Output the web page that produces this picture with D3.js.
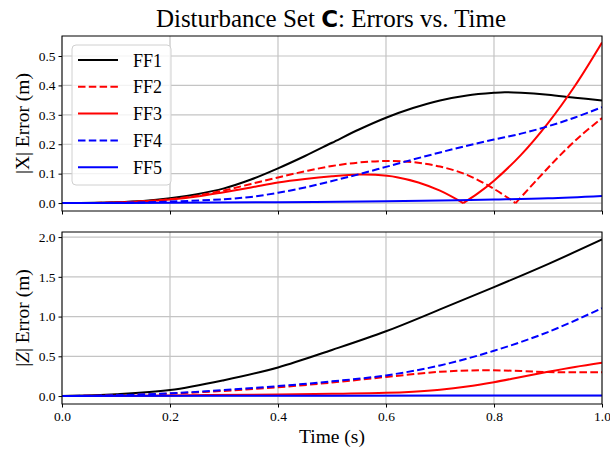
<!DOCTYPE html>
<html>
<head>
<meta charset="utf-8">
<script src="https://cdn.jsdelivr.net/npm/d3@7/dist/d3.min.js"></script>
<style>
  body { margin: 0; background: #fff; }
  svg text { font-family: 'Liberation Serif', 'Times New Roman', serif; fill: #000; }
</style>
</head>
<body>
<div id="chart"></div>
<script>
// series names and styles
var names = ['FF1', 'FF2', 'FF3', 'FF4', 'FF5']
var colors = ['#000000', '#ff0000', '#ff0000', '#0000ff', '#0000ff']
var dashed = [false, true, false, true, false]
var xTicks = [0, 0.2, 0.4, 0.6, 0.8, 1.0]
var xErrTicks = [0, 0.1, 0.2, 0.3, 0.4, 0.5]
var zErrTicks = [0, 0.5, 1.0, 1.5, 2.0]

// |X| error, [time, value]
var ff1X = [[0,0],[0.1,0.003],[0.15,0.007],[0.2,0.016],[0.25,0.03],[0.3,0.05],[0.35,0.08],[0.4,0.118],[0.45,0.16],[0.5,0.205],[0.55,0.25],[0.6,0.29],[0.65,0.323],[0.7,0.349],[0.75,0.366],[0.8,0.375],[0.82,0.377],[0.85,0.375],[0.9,0.368],[0.95,0.358],[1.0,0.349]]
var ff2X = [[0,0],[0.1,0.002],[0.2,0.013],[0.25,0.025],[0.3,0.043],[0.35,0.065],[0.4,0.087],[0.45,0.108],[0.5,0.126],[0.55,0.138],[0.6,0.143],[0.65,0.139],[0.7,0.124],[0.75,0.096],[0.8,0.048],[0.84,0],[0.88,0.08],[0.92,0.158],[0.96,0.228],[1.0,0.289]]
var ff3X = [[0,0],[0.1,0.002],[0.2,0.012],[0.25,0.022],[0.3,0.037],[0.35,0.053],[0.4,0.07],[0.45,0.082],[0.5,0.091],[0.55,0.097],[0.58,0.096],[0.62,0.088],[0.66,0.07],[0.7,0.042],[0.743,0],[0.77,0.033],[0.8,0.076],[0.85,0.164],[0.9,0.272],[0.95,0.399],[1.0,0.546]]
var ff4X = [[0,0],[0.1,0.001],[0.2,0.005],[0.3,0.013],[0.35,0.021],[0.4,0.035],[0.45,0.053],[0.5,0.075],[0.55,0.098],[0.6,0.123],[0.65,0.148],[0.7,0.172],[0.75,0.195],[0.8,0.216],[0.85,0.236],[0.9,0.261],[0.95,0.291],[1.0,0.326]]
var ff5X = [[0,0],[0.2,0.001],[0.4,0.003],[0.6,0.006],[0.7,0.009],[0.8,0.012],[0.9,0.016],[1.0,0.024]]

// |Z| error, [time, value]
var ff1Z = [[0,0],[0.1,0.022],[0.2,0.075],[0.3,0.2],[0.4,0.36],[0.5,0.58],[0.6,0.815],[0.7,1.09],[0.8,1.37],[0.9,1.66],[1.0,1.97]]
var ff2Z = [[0,0],[0.1,0.008],[0.2,0.03],[0.3,0.065],[0.4,0.11],[0.5,0.17],[0.6,0.24],[0.7,0.305],[0.78,0.325],[0.85,0.315],[0.9,0.302],[1.0,0.3]]
var ff3Z = [[0,0],[0.2,0.008],[0.4,0.02],[0.5,0.028],[0.6,0.04],[0.65,0.055],[0.7,0.08],[0.75,0.12],[0.8,0.175],[0.85,0.24],[0.9,0.305],[0.95,0.365],[1.0,0.418]]
var ff4Z = [[0,0],[0.1,0.01],[0.2,0.035],[0.3,0.075],[0.4,0.125],[0.5,0.185],[0.6,0.26],[0.7,0.385],[0.8,0.57],[0.9,0.805],[1.0,1.105]]
var ff5Z = [[0,0],[0.5,0.004],[1.0,0.008]]

var width = 610
var height = 453
var left = 62
var right = 602
var serif = "'Liberation Serif', 'Times New Roman', serif"

var svg = d3.select('#chart').append('svg')
  .attr('width', width)
  .attr('height', height)

var x = d3.scaleLinear().domain([0, 1]).range([left, right])

// split a series at interior zeros so the V corners stay sharp
function pieces(data) {
  var out = [], cur = [data[0]]
  for (var i = 1; i < data.length; i++) {
    cur.push(data[i])
    if (data[i][1] === 0 && i < data.length - 1) {
      out.push(cur)
      cur = [data[i]]
    }
  }
  out.push(cur)
  return out
}

function panel(series, ticks, top, bottom, domain, label, italic, showX) {
  var y = d3.scaleLinear().domain(domain).range([bottom, top])
  var g = svg.append('g')

  // grid
  g.selectAll('.vg').data(xTicks).enter().append('line')
    .attr('x1', x).attr('x2', x).attr('y1', top).attr('y2', bottom)
    .attr('stroke', '#c4c4c4').attr('stroke-width', 1.2)
  g.selectAll('.hg').data(ticks).enter().append('line')
    .attr('x1', left).attr('x2', right).attr('y1', y).attr('y2', y)
    .attr('stroke', '#c4c4c4').attr('stroke-width', 1.2)

  var line = d3.line()
    .x(function(d) { return x(d[0]) })
    .y(function(d) { return y(d[1]) })
    .curve(d3.curveCatmullRom.alpha(0.5))

  var clip = 'clip' + Math.round(top)
  svg.append('clipPath').attr('id', clip).append('rect')
    .attr('x', left).attr('y', top).attr('width', right - left).attr('height', bottom - top)

  series.forEach(function(s, i) {
    pieces(s).forEach(function(p) {
      g.append('path')
        .attr('d', line(p))
        .attr('clip-path', 'url(#' + clip + ')')
        .attr('fill', 'none')
        .attr('stroke', colors[i])
        .attr('stroke-width', 2)
        .attr('stroke-dasharray', dashed[i] ? '7.5,3.3' : null)
    })
  })

  // frame
  g.append('rect')
    .attr('x', left).attr('y', top).attr('width', right - left).attr('height', bottom - top)
    .attr('fill', 'none').attr('stroke', '#000').attr('stroke-width', 1)

  var yAxis = d3.axisLeft(y).tickValues(ticks).tickFormat(d3.format('.1f'))
    .tickSize(3.5).tickPadding(3)
  var ya = g.append('g').attr('transform', 'translate(' + left + ',0)').call(yAxis)
    .attr('font-family', serif).attr('font-size', 13.5)
  ya.select('.domain').remove()

  var xAxis = d3.axisBottom(x).tickValues(xTicks).tickFormat(d3.format('.1f'))
    .tickSize(3.5).tickPadding(4)
  var xa = g.append('g').attr('transform', 'translate(0,' + bottom + ')').call(xAxis)
    .attr('font-family', serif).attr('font-size', 13.5)
  xa.select('.domain').remove()
  if (!showX) xa.selectAll('text').remove()

  var yl = svg.append('text')
    .attr('transform', 'translate(29,' + ((top + bottom) / 2) + ') rotate(-90)')
    .attr('text-anchor', 'middle')
    .style('font-size', '19.5px')
  yl.append('tspan').text('|')
  yl.append('tspan').text(label).style('font-style', italic ? 'italic' : 'normal')
  yl.append('tspan').text('| Error (m)')
  return y
}

panel([ff1X, ff2X, ff3X, ff4X, ff5X], xErrTicks, 36, 211, [-0.027, 0.568], 'X', false, false)
panel([ff1Z, ff2Z, ff3Z, ff4Z, ff5Z], zErrTicks, 232, 404, [-0.1, 2.064], 'Z', true, true)

// title
var title = svg.append('text')
  .attr('x', 331).attr('y', 27)
  .attr('text-anchor', 'middle')
  .style('font-size', '25px')
title.append('tspan').text('Disturbance Set ')
title.append('tspan').text('C').style('font-family', "'DejaVu Sans', sans-serif").style('font-weight', 'bold').style('font-size', '23px')
title.append('tspan').text(': Errors vs. Time')

svg.append('text')
  .attr('x', 332).attr('y', 443)
  .attr('text-anchor', 'middle')
  .style('font-size', '19.5px')
  .text('Time (s)')

// legend
var legend = svg.append('g')
legend.append('rect')
  .attr('x', 72).attr('y', 45).attr('width', 99).attr('height', 140)
  .attr('rx', 4)
  .attr('fill', 'rgba(255,255,255,0.8)').attr('stroke', '#d0d0d0')
var item = legend.selectAll('.item').data(names).enter().append('g')
  .attr('transform', function(d, i) { return 'translate(0,' + (60 + i * 26.8) + ')' })
item.append('line')
  .attr('x1', 78).attr('x2', 118)
  .attr('stroke', function(d, i) { return colors[i] })
  .attr('stroke-width', 2)
  .attr('stroke-dasharray', function(d, i) { return dashed[i] ? '7.5,3.3' : null })
item.append('text')
  .attr('x', 133).attr('y', 6.5)
  .style('font-size', '18px')
  .text(function(d) { return d })
</script>
</body>
</html>
